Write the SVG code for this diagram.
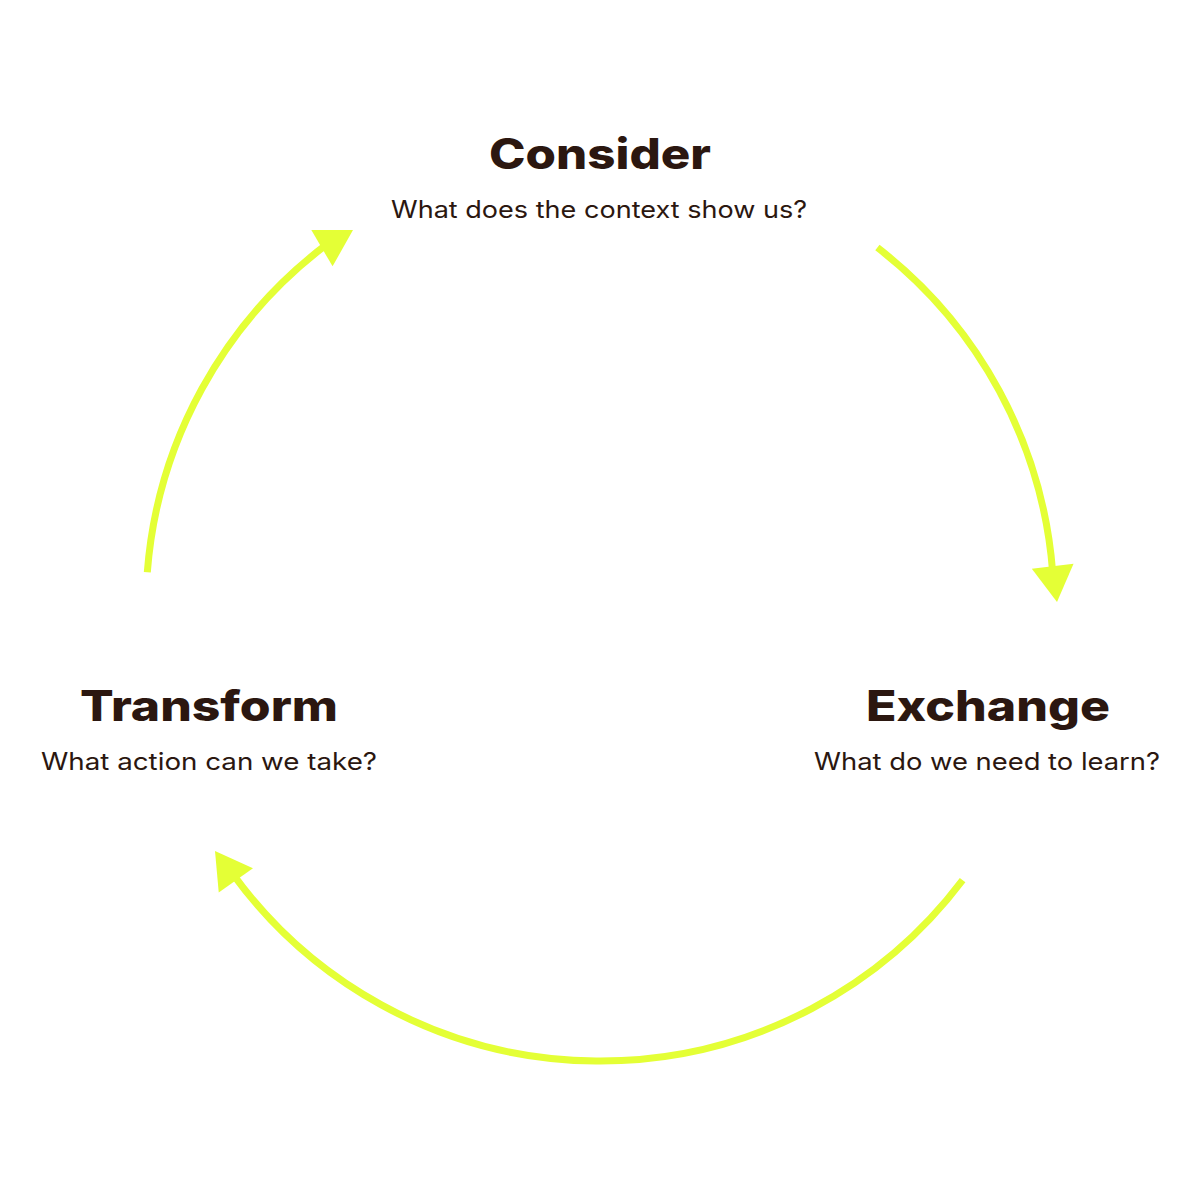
<svg xmlns="http://www.w3.org/2000/svg" xmlns:xlink="http://www.w3.org/1999/xlink" width="1200" height="1200" viewBox="0 0 1200 1200">
<style>
.head{font-family:Inter,"Liberation Sans",sans-serif;font-weight:800;font-size:42px;fill:#2B1710;text-anchor:middle}
.sub{font-family:Inter,"Liberation Sans",sans-serif;font-weight:400;font-size:24px;fill:#2B1710;text-anchor:middle}
.arc{fill:none;stroke:#E4FF36;stroke-width:7;stroke-linecap:butt}
.tip{fill:#E4FF36}
</style>
<defs>
<polygon id="ah" points="0,0 -36,-21 -36,21"/>
</defs>
<rect width="1200" height="1200" fill="#ffffff"/>
<g id="connectors">
<path class="arc" d="M147.3,572.2 A454,454 0 0 1 326.8,244.4"/>
<use href="#ah" class="tip" transform="translate(353,230) rotate(-30.4)"/>
<path class="arc" d="M877.4,247.6 A454,454 0 0 1 1052.6,571.4"/>
<use href="#ah" class="tip" transform="translate(1057,602) rotate(83.1)"/>
<path class="arc" d="M962.6,880.2 A454,454 0 0 1 232.7,873.9"/>
<use href="#ah" class="tip" transform="translate(215,851) rotate(-125.4)"/>
</g>
<g id="consider">
<text class="head" x="600" y="169" textLength="222" lengthAdjust="spacingAndGlyphs">Consider</text>
<text class="sub" x="599" y="218" textLength="416" lengthAdjust="spacingAndGlyphs">What does the context show us?</text>
</g>
<g id="exchange">
<text class="head" x="988" y="721" textLength="244" lengthAdjust="spacingAndGlyphs">Exchange</text>
<text class="sub" x="987" y="770" textLength="346" lengthAdjust="spacingAndGlyphs">What do we need to learn?</text>
</g>
<g id="transform">
<text class="head" x="209" y="721" textLength="258" lengthAdjust="spacingAndGlyphs">Transform</text>
<text class="sub" x="209" y="770" textLength="336" lengthAdjust="spacingAndGlyphs">What action can we take?</text>
</g>
</svg>
